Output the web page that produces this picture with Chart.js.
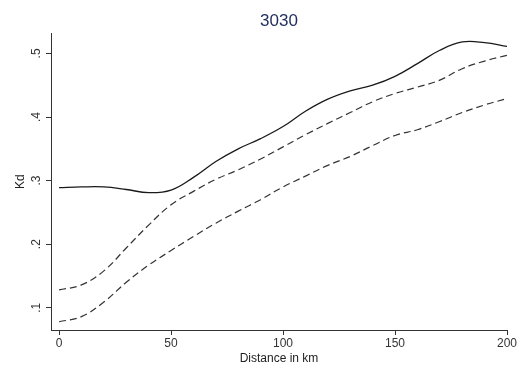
<!DOCTYPE html>
<html>
<head>
<meta charset="utf-8">
<script src="https://cdn.jsdelivr.net/npm/chart.js@4"></script>
<style>
  html, body { margin: 0; padding: 0; background: #fff; }
  #wrap { width: 525px; height: 369px; }
</style>
</head>
<body>
<div id="wrap"><canvas id="kd-chart" width="525" height="369"></canvas></div>
<script>
// distance in km
var distance = [0, 10, 20, 30, 40, 50, 60, 70, 80, 90, 100, 110, 120, 130, 140, 150, 160, 170, 180, 190, 200];
// estimate and the two dashed bands
var kd = [0.289, 0.290, 0.290, 0.286, 0.281, 0.285, 0.305, 0.330, 0.350, 0.366, 0.385, 0.409, 0.428, 0.441, 0.450, 0.464, 0.484, 0.505, 0.518, 0.517, 0.511];
var kdUpper = [0.128, 0.136, 0.158, 0.194, 0.230, 0.262, 0.283, 0.302, 0.317, 0.334, 0.353, 0.372, 0.390, 0.407, 0.424, 0.437, 0.447, 0.458, 0.476, 0.488, 0.497];
var kdLower = [0.078, 0.086, 0.109, 0.140, 0.167, 0.190, 0.212, 0.233, 0.252, 0.270, 0.290, 0.307, 0.324, 0.338, 0.355, 0.371, 0.380, 0.393, 0.407, 0.419, 0.429];
var xTicks = [0, 50, 100, 150, 200];
var yTicks = [0.1, 0.2, 0.3, 0.4, 0.5];
var yTickLabels = ['.1', '.2', '.3', '.4', '.5'];

function pts(ys) {
    return distance.map(function(d, i) { return {x: d, y: ys[i]}; });
}

var font = "'Liberation Sans', Arial, Helvetica, sans-serif";
var axisColor = '#333';

// y tick labels are drawn rotated, as in the original
var rotatedYLabels = {
    id: 'rotatedYLabels',
    afterDraw: function(chart) {
        var ctx = chart.ctx;
        var y = chart.scales.y;
        ctx.save();
        ctx.fillStyle = axisColor;
        ctx.font = '12px ' + font;
        ctx.textAlign = 'center';
        ctx.textBaseline = 'middle';
        yTicks.forEach(function(v, i) {
            ctx.save();
            ctx.translate(y.right - 14, y.getPixelForValue(v));
            ctx.rotate(-Math.PI / 2);
            ctx.fillText(yTickLabels[i], 0, 0);
            ctx.restore();
        });
        ctx.restore();
    }
};

var line = {
    fill: false,
    pointRadius: 0,
    tension: 0.4,
    borderColor: '#1a1a1a',
    borderWidth: 1.3
};
var dashed = { borderDash: [7, 4], borderColor: '#333', borderWidth: 1.2 };

new Chart(document.getElementById('kd-chart').getContext('2d'), {
    type: 'line',
    data: {
        datasets: [
            Object.assign({label: 'Kd', data: pts(kd)}, line),
            Object.assign({label: 'upper', data: pts(kdUpper)}, line, dashed),
            Object.assign({label: 'lower', data: pts(kdLower)}, line, dashed)
        ]
    },
    options: {
        responsive: false,
        animation: false,
        layout: { padding: { left: 0, right: 18, top: 0, bottom: 0 } },
        plugins: {
            legend: { display: false },
            tooltip: { enabled: false },
            title: {
                display: true,
                text: '3030',
                fullSize: false,
                color: '#1e2d5c',
                font: { family: font, size: 17, weight: 'normal' },
                padding: { top: 11, bottom: 2 }
            }
        },
        scales: {
            x: {
                type: 'linear',
                min: -3.6,
                max: 200,
                afterBuildTicks: function(s) { s.ticks = xTicks.map(function(v) { return {value: v}; }); },
                afterFit: function(s) { s.height = 39; },
                grid: { display: true, drawOnChartArea: false, drawTicks: true, tickLength: 5, color: axisColor },
                border: { display: true, color: axisColor, width: 1 },
                ticks: { color: axisColor, font: { family: font, size: 12 }, padding: 1, maxRotation: 0 },
                title: { display: true, text: 'Distance in km', color: '#222', font: { family: font, size: 12 }, padding: { top: 0, bottom: 3 } }
            },
            y: {
                type: 'linear',
                min: 0.065,
                max: 0.5315,
                afterBuildTicks: function(s) { s.ticks = yTicks.map(function(v) { return {value: v}; }); },
                afterFit: function(s) { s.width = 51; },
                grid: { display: true, drawOnChartArea: false, drawTicks: true, tickLength: 5, color: axisColor },
                border: { display: true, color: axisColor, width: 1 },
                ticks: { display: false },
                title: { display: true, text: 'Kd', color: '#222', font: { family: font, size: 12 }, padding: { top: 13, bottom: 0 } }
            }
        }
    },
    plugins: [rotatedYLabels]
});
</script>
</body>
</html>
